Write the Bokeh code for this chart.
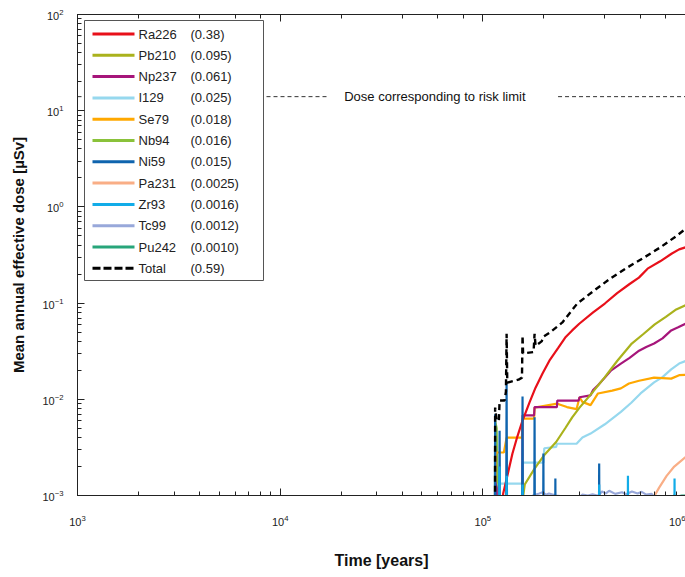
import math
from bokeh.plotting import figure
from bokeh.models import LogAxis, Label
from bokeh.core.properties import value
from bokeh.embed import file_html
from bokeh.resources import INLINE

FONT = "Liberation Sans"

# ---------------- data (time in years, dose in µSv) ----------------
ra226_t = [1.24e5, 1.26e5, 1.33e5, 1.40e5, 1.48e5, 1.57e5, 1.70e5, 1.82e5, 1.97e5, 2.13e5, 2.35e5,
           2.55e5, 2.76e5, 2.99e5, 3.5e5, 4.0e5, 4.6e5, 5.3e5, 5.89e5, 6.5e5, 7.5e5, 8.53e5, 9.3e5, 1.0e6]
ra226_d = [7e-4, 1.05e-3, 1.7e-3, 2.73e-3, 4.1e-3, 6.0e-3, 9.3e-3, 1.32e-2, 1.85e-2, 2.52e-2, 3.4e-2,
           4.38e-2, 5.2e-2, 6.1e-2, 8.0e-2, 9.9e-2, 0.127, 0.158, 0.184, 0.228, 0.272, 0.326, 0.362, 0.38]

pb210_t = [1.56e5, 1.61e5, 1.80e5, 2.0e5, 2.3e5, 2.55e5, 2.76e5, 3.0e5, 3.5e5, 4.0e5, 4.6e5, 5.43e5,
           6.22e5, 7.05e5, 8.0e5, 9.0e5, 1.0e6]
pb210_d = [8e-4, 1.3e-3, 1.9e-3, 2.6e-3, 3.6e-3, 5.0e-3, 6.5e-3, 8.2e-3, 1.2e-2, 1.7e-2, 2.5e-2, 3.8e-2,
           4.8e-2, 6.0e-2, 7.2e-2, 8.6e-2, 9.5e-2]

np237_t = [1.14e5, 1.15e5, 1.17e5, 1.19e5, 1.565e5, 1.57e5, 1.79e5, 1.80e5, 2.32e5, 2.33e5, 2.97e5, 3.0e5,
           3.4e5, 3.5e5, 3.7e5, 4.0e5, 4.3e5, 4.8e5, 5.3e5, 5.9e5, 6.4e5, 7.0e5, 7.7e5, 8.5e5, 9.2e5, 1.0e6]
np237_d = [1e-4, 1.4e-3, 1.2e-3, 1e-4, 1e-4, 6.8e-3, 6.8e-3, 8.3e-3, 8.3e-3, 9.7e-3, 9.7e-3, 1.05e-2,
           1.1e-2, 1.25e-2, 1.4e-2, 1.68e-2, 2.0e-2, 2.35e-2, 2.7e-2, 3.2e-2, 3.5e-2, 3.8e-2, 4.3e-2, 5.2e-2,
           5.6e-2, 6.1e-2]

i129_t = [1.19e5, 1.20e5, 1.56e5, 1.57e5, 1.99e5, 2.01e5, 2.3e5, 2.32e5, 2.9e5, 3.1e5, 3.4e5, 4.0e5,
          4.8e5, 5.4e5, 6.0e5, 7.0e5, 7.7e5, 8.5e5, 9.3e5, 1.0e6]
i129_d = [1e-4, 1.33e-3, 1.33e-3, 2.2e-3, 2.2e-3, 3.1e-3, 3.2e-3, 3.45e-3, 3.45e-3, 4.0e-3, 4.4e-3, 5.5e-3,
          7.4e-3, 9.2e-3, 1.15e-2, 1.5e-2, 1.7e-2, 2.05e-2, 2.35e-2, 2.5e-2]

se79_t = [1.15e5, 1.16e5, 1.27e5, 1.31e5, 1.56e5, 1.57e5, 1.79e5, 1.80e5, 2.33e5, 2.6e5, 2.9e5, 3.0e5,
          3.1e5, 3.4e5, 3.7e5, 4.35e5, 4.8e5, 5.26e5, 5.9e5, 7.0e5, 8.5e5, 9.3e5, 1.0e6]
se79_d = [1e-4, 2.8e-3, 2.8e-3, 4.0e-3, 4.0e-3, 6.3e-3, 6.3e-3, 8.2e-3, 9.0e-3, 8.3e-3, 7.9e-3, 1.05e-2,
          9.4e-3, 8.7e-3, 1.15e-2, 1.23e-2, 1.3e-2, 1.46e-2, 1.56e-2, 1.68e-2, 1.64e-2, 1.78e-2, 1.8e-2]

nb94_t = [1.145e5, 1.15e5, 1.17e5, 1.19e5]
nb94_d = [1e-4, 6.0e-3, 5.0e-3, 1e-4]

ni59_t = [1.145e5, 1.15e5, 1.155e5, 1.20e5, 1.21e5, 1.22e5, 1.30e5, 1.31e5, 1.32e5, 1.56e5, 1.57e5, 1.58e5,
          1.79e5, 1.80e5, 1.81e5, 1.98e5, 1.99e5, 2.0e5, 2.27e5, 2.28e5, 2.29e5, 3.73e5, 3.75e5, 3.77e5]
ni59_d = [1e-4, 7.0e-3, 1e-4, 1e-4, 4.7e-3, 1e-4, 1e-4, 1.49e-2, 1e-4, 1e-4, 1.07e-2, 1e-4,
          1e-4, 6.5e-3, 1e-4, 1e-4, 2.73e-3, 1e-4, 1e-4, 1.5e-3, 1e-4, 1e-4, 2.15e-3, 1e-4]

pa231_t = [6.95e5, 7.4e5, 8.07e5, 8.8e5, 1.0e6]
pa231_d = [9.5e-4, 1.2e-3, 1.6e-3, 2.0e-3, 2.5e-3]

zr93_t = [1.20e5, 1.21e5, 1.22e5, 1.30e5, 1.31e5, 1.32e5, 1.56e5, 1.57e5, 1.58e5, 3.73e5, 3.75e5, 3.77e5,
          5.18e5, 5.2e5, 5.22e5, 8.80e5, 8.83e5, 8.86e5]
zr93_d = [1e-4, 2.0e-3, 1e-4, 1e-4, 1.6e-3, 1e-4, 1e-4, 1.3e-3, 1e-4, 1e-4, 1.3e-3, 1e-4,
          1e-4, 1.6e-3, 1e-4, 1e-4, 1.5e-3, 1e-4]

tc99_t = [1.76e5, 1.9e5, 1.97e5, 2.05e5, 2.12e5, 2.3e5, 2.47e5, 2.7e5, 3.0e5, 3.1e5, 3.3e5, 3.48e5, 3.7e5,
          3.87e5, 4.05e5, 4.2e5, 4.5e5, 4.86e5, 5.1e5, 5.44e5, 5.8e5, 6.08e5, 6.4e5, 6.81e5, 7.06e5]
tc99_d = [1.0e-3, 1.05e-3, 1.08e-3, 1.02e-3, 1.05e-3, 1.0e-3, 9.8e-4, 9.5e-4, 9.7e-4, 1.02e-3, 1.0e-3,
          1.03e-3, 9.9e-4, 1.1e-3, 1.05e-3, 1.12e-3, 1.04e-3, 1.08e-3, 1.03e-3, 1.1e-3, 1.05e-3, 1.09e-3,
          1.02e-3, 1.04e-3, 9.5e-4]

pu242_t = [8.4e5, 8.8e5, 9.2e5, 9.6e5, 1.0e6]
pu242_d = [9.5e-4, 1.0e-3, 9.8e-4, 1.0e-3, 1.0e-3]

total_t = [1.148e5, 1.15e5, 1.17e5, 1.20e5, 1.21e5, 1.28e5, 1.30e5, 1.31e5, 1.32e5, 1.50e5, 1.56e5, 1.57e5,
           1.58e5, 1.78e5, 1.80e5, 1.82e5, 1.95e5, 2.0e5, 2.13e5, 2.47e5, 2.92e5, 3.54e5, 4.24e5, 5.14e5,
           6.22e5, 7.46e5, 9.04e5, 1.0e6]
total_d = [1e-4, 8.2e-3, 6.0e-3, 6.0e-3, 9.7e-3, 9.7e-3, 1.2e-2, 4.8e-2, 1.49e-2, 1.6e-2, 1.68e-2, 4.6e-2,
           3.0e-2, 3.1e-2, 4.8e-2, 3.6e-2, 4.0e-2, 4.5e-2, 4.9e-2, 6.3e-2, 9.86e-2, 0.135, 0.179, 0.233,
           0.296, 0.376, 0.50, 0.59]

names = ["Ra226", "Pb210", "Np237", "I129", "Se79", "Nb94", "Ni59", "Pa231", "Zr93", "Tc99", "Pu242", "Total"]
max_doses = ["(0.38)", "(0.095)", "(0.061)", "(0.025)", "(0.018)", "(0.016)", "(0.015)", "(0.0025)",
             "(0.0016)", "(0.0012)", "(0.0010)", "(0.59)"]
colors = ["#E8101A", "#AAB21C", "#A6157A", "#96D8EE", "#FFA800", "#8AC23A", "#0F64AE", "#F9AE86",
          "#12ACE8", "#98A8DA", "#27A57A", "#000000"]
series_t = [ra226_t, pb210_t, np237_t, i129_t, se79_t, nb94_t, ni59_t, pa231_t, zr93_t, tc99_t, pu242_t, total_t]
series_d = [ra226_d, pb210_d, np237_d, i129_d, se79_d, nb94_d, ni59_d, pa231_d, zr93_d, tc99_d, pu242_d, total_d]

risk_limit = 14.0
risk_text = "Dose corresponding to risk limit"

# ---------------- figure ----------------
X0, X1, Y0, Y1 = 1e3, 1e6, 1e-3, 1e2
FRAME_W, FRAME_H = 608, 481

p = figure(width=685, height=577, x_axis_type="log", y_axis_type="log",
           x_range=(X0, X1), y_range=(Y0, Y1),
           output_backend="svg", toolbar_location=None,
           min_border_left=77, min_border_right=0, min_border_top=14, min_border_bottom=82)
p.grid.visible = False
p.outline_line_color = None
p.background_fill_color = "white"
p.border_fill_color = "white"

for ax in (p.xaxis[0], p.yaxis[0]):
    ax.axis_line_color = "#222222"
    ax.major_tick_line_color = "#222222"
    ax.minor_tick_line_color = "#222222"
    ax.major_tick_in = 7
    ax.major_tick_out = 0
    ax.minor_tick_in = 4
    ax.minor_tick_out = 0
    ax.major_label_text_font = FONT
    ax.major_label_text_font_size = "11px"
    ax.major_label_text_color = "#222222"
    ax.axis_label_text_font = FONT
    ax.axis_label_text_font_style = "bold"
    ax.axis_label_text_color = "#111111"

p.xaxis[0].axis_label = "Time [years]"
p.xaxis[0].axis_label_text_font_size = "16px"
p.xaxis[0].major_label_standoff = 19
p.xaxis[0].axis_label_standoff = 23
p.yaxis[0].axis_label = "Mean annual effective dose [µSv]"
p.yaxis[0].axis_label_text_font_size = "15px"
p.yaxis[0].major_label_standoff = 14
p.yaxis[0].axis_label_standoff = 12

top = LogAxis(axis_line_color="#222222", major_tick_line_color="#222222", minor_tick_line_color="#222222",
              major_tick_in=7, major_tick_out=0, minor_tick_in=4, minor_tick_out=0,
              major_label_text_font_size="2px", major_label_text_alpha=0.0, major_label_standoff=0)
p.add_layout(top, "above")

# risk limit line
p.line(x=[1e3, 1.74e4], y=[risk_limit, risk_limit], line_color="#333333", line_width=1, line_dash="4 3")
p.line(x=[2.35e5, 1e6], y=[risk_limit, risk_limit], line_color="#333333", line_width=1, line_dash="4 3")
p.add_layout(Label(x=5.8e4, y=risk_limit, text=risk_text, text_align="center", text_baseline="middle",
                   text_font=FONT, text_font_size="13px", text_color="#111111"))

# curves
draw_order = [10, 9, 7, 5, 3, 4, 2, 1, 0, 6, 8, 11]
for i in draw_order:
    if names[i] == "Total":
        p.line(series_t[i], series_d[i], line_color=colors[i], line_width=2.4, line_dash="6 4")
    else:
        p.line(series_t[i], series_d[i], line_color=colors[i], line_width=2.2)

# ---------------- legend box (drawn as glyphs at fixed pixel offsets in the frame) ----------------
def fx(px):
    return 10 ** (math.log10(X0) + (math.log10(X1) - math.log10(X0)) * px / FRAME_W)

def fy(px):
    return 10 ** (math.log10(Y1) - (math.log10(Y1) - math.log10(Y0)) * px / FRAME_H)

LEG_L, LEG_R, LEG_T, LEG_B = 7, 186, 6, 266
ROW0, ROW_DY = 19.5, 21.3
GL0, GL1, NAME_X, VAL_X = 15, 57, 61, 113

p.quad(left=[fx(LEG_L)], right=[fx(LEG_R)], top=[fy(LEG_T)], bottom=[fy(LEG_B)],
       fill_color="white", line_color="#555555", line_width=1)

rows_y = [fy(ROW0 + ROW_DY * i) for i in range(len(names))]
for i, nm in enumerate(names):
    if nm == "Total":
        p.line(x=[fx(GL0), fx(GL1)], y=[rows_y[i], rows_y[i]], line_color=colors[i], line_width=3,
               line_dash="8 3")
    else:
        p.line(x=[fx(GL0), fx(GL1)], y=[rows_y[i], rows_y[i]], line_color=colors[i], line_width=3)

p.text(x=[fx(NAME_X)] * len(names), y=rows_y, text=names, text_font=value(FONT), text_font_size="13px",
       text_color="#222222", text_baseline="middle", text_align="left")
p.text(x=[fx(VAL_X)] * len(names), y=rows_y, text=max_doses, text_font=value(FONT), text_font_size="13px",
       text_color="#222222", text_baseline="middle", text_align="left")

open("out.html", "w").write(file_html(p, INLINE))
